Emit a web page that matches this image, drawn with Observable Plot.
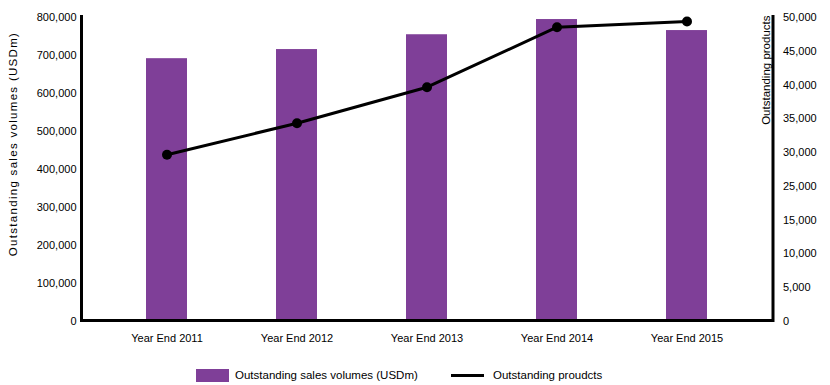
<!DOCTYPE html>
<html>
<head>
<meta charset="utf-8">
<script src="https://cdn.jsdelivr.net/npm/d3@7"></script>
<script src="https://cdn.jsdelivr.net/npm/@observablehq/plot@0.6"></script>
<style>
  body { margin: 0; background: #fff; font-family: "Liberation Sans", Arial, sans-serif; }
  #legend { position: relative; height: 27px; font-size: 11.5px; color: #000; }
  .sw { position: absolute; }
  .lt { position: absolute; top: 4px; line-height: 14px; }
  .ltitle { letter-spacing: 1.3px; }
</style>
</head>
<body>
<div id="chart"></div>
<div id="legend">
  <div class="sw" style="left:196px;top:11px;width:33px;height:13px;background:#7f3f98"></div>
  <div class="lt" style="left:235px;top:10px">Outstanding sales volumes (USDm)</div>
  <div class="sw" style="left:451px;top:16px;width:33px;height:3px;background:#000"></div>
  <div class="lt" style="left:493px;top:10px">Outstanding proudcts</div>
</div>
<script>
const years = ["Year End 2011", "Year End 2012", "Year End 2013", "Year End 2014", "Year End 2015"];
const salesVolumes = [689000, 713000, 752000, 792000, 763000];
const outstandingProducts = [27250, 32450, 38370, 48240, 49180];
const leftTickLabels = ["0", "100,000", "200,000", "300,000", "400,000", "500,000", "600,000", "700,000", "800,000"];
const rightTickLabels = ["0", "5,000", "10,000", "15,000", "25,000", "30,000", "35,000", "40,000", "45,000", "50,000"];

const leftMax = 800000;
const rightMax = 50000;
const ratio = leftMax / rightMax;

const data = years.map((y, i) => ({year: y, sales: salesVolumes[i], products: outstandingProducts[i]}));
const leftTicks = leftTickLabels.map((_, i) => i * leftMax / (leftTickLabels.length - 1));
const rightTicks = rightTickLabels.map((_, i) => i * leftMax / (rightTickLabels.length - 1));
const rightStep = leftMax / (rightTickLabels.length - 1);

const font = "'Liberation Sans', Arial, sans-serif";

const chart = Plot.plot({
  width: 830,
  height: 358,
  marginLeft: 81,
  marginRight: 57.5,
  marginTop: 16,
  marginBottom: 38,
  style: {fontFamily: font, fontSize: "11px", background: "#fff", color: "#000"},
  x: {domain: years, paddingInner: 0.685, paddingOuter: 0.49, axis: null},
  y: {domain: [0, leftMax], axis: null},
  marks: [
    Plot.barY(data, {x: "year", y: "sales", fill: "#7f3f98"}),
    Plot.frame({anchor: "left", stroke: "#000", strokeWidth: 3}),
    Plot.frame({anchor: "right", stroke: "#000", strokeWidth: 3}),
    Plot.ruleY([0], {stroke: "#000", strokeWidth: 3}),
    Plot.line(data, {x: "year", y: d => d.products * ratio, stroke: "#000", strokeWidth: 3}),
    Plot.dot(data, {x: "year", y: d => d.products * ratio, r: 5, fill: "#000"}),
    Plot.axisY({anchor: "left", ticks: leftTicks, tickFormat: d => leftTickLabels[Math.round(d / 100000)], tickSize: 0, tickPadding: 5, label: null, dy: 1}),
    Plot.axisY({anchor: "right", ticks: rightTicks, tickFormat: d => rightTickLabels[Math.round(d / rightStep)], tickSize: 0, tickPadding: 10, label: null, dy: 1}),
    Plot.axisX({anchor: "bottom", tickSize: 0, tickPadding: 14, label: null}),
    Plot.text(["Outstanding sales volumes (USDm)"], {frameAnchor: "left", dx: -68, dy: -24.5, rotate: -90, textAnchor: "middle", fontSize: 11.5, fill: "#000", className: "ltitle"}),
    Plot.text(["Outstanding products"], {frameAnchor: "top-right", dx: -11.5, dy: -1, rotate: -90, textAnchor: "end", fontSize: 11.5, fill: "#000"})
  ]
});
document.getElementById("chart").appendChild(chart);
</script>
</body>
</html>
